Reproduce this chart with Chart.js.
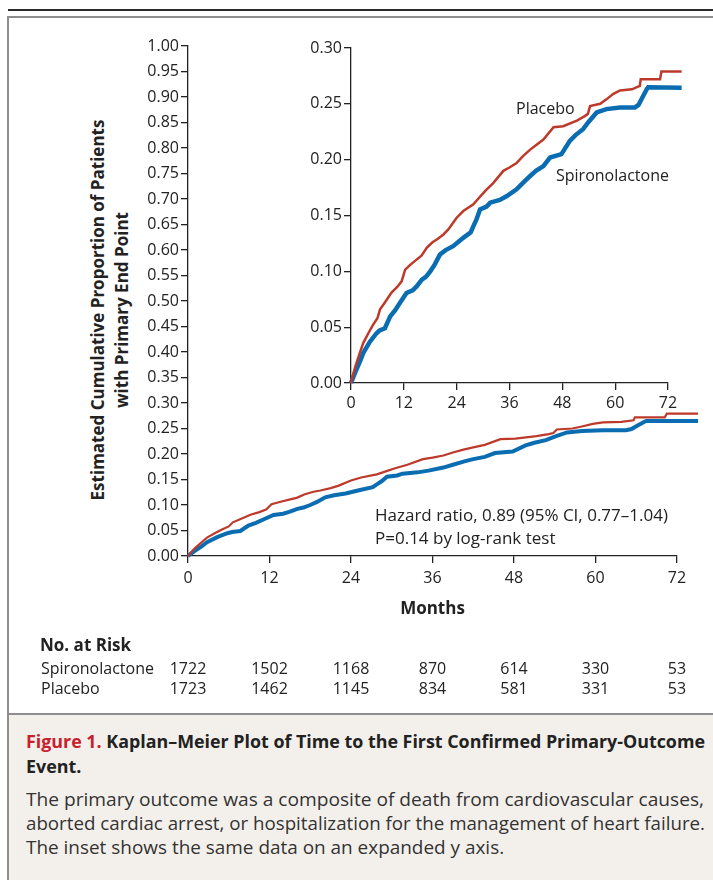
<!DOCTYPE html>
<html><head><meta charset="utf-8">
<script src="https://cdn.jsdelivr.net/npm/chart.js@4"></script>
<style>
html,body{margin:0;padding:0;background:#fff;}
body{width:713px;height:880px;position:relative;overflow:hidden;font-family:'Open Sans',sans-serif;color:#222;}
#topline{position:absolute;left:8px;top:9px;width:705px;height:2px;background:#2a2a2a;}
#frame{position:absolute;left:7px;top:16px;width:720px;height:880px;border-left:2px solid #8e8e8e;border-top:2px solid #8e8e8e;}
#caption{position:absolute;left:9px;top:713px;width:704px;height:167px;background:#f3f0eb;border-top:2px solid #8e8e8e;}
canvas{position:absolute;}
.lbl{position:absolute;white-space:nowrap;line-height:1;}
.cap{position:absolute;left:26px;white-space:nowrap;line-height:1;transform-origin:0 50%;}
#ytitle{position:absolute;left:-120px;top:286px;width:460px;height:48px;line-height:24px;text-align:center;font-weight:700;font-size:17px;transform:rotate(-90deg);transform-origin:50% 50%;color:#222;}
</style></head>
<body>
<div id="topline"></div>
<div id="frame"></div>
<div id="caption"></div>
<div id="ytitle">Estimated Cumulative Proportion of Patients<br>with Primary End Point</div>
<canvas id="main" width="713" height="710" style="left:0;top:0;width:713px;height:710px"></canvas>
<canvas id="inset" width="430" height="420" style="left:280px;top:0;width:430px;height:420px"></canvas>
<div class="lbl" style="left:516px;top:99.5px;font-size:16px">Placebo</div>
<div class="lbl" style="left:556px;top:166.5px;font-size:16px">Spironolactone</div>
<div class="lbl" style="left:375px;top:505.5px;font-size:17px">Hazard ratio, 0.89 (95% CI, 0.77–1.04)</div>
<div class="lbl" style="left:375px;top:529px;font-size:17px">P=0.14 by log-rank test</div>
<div class="cap" id="t1" style="top:731.5px;font-size:18px;font-weight:700;color:#222"><span style="color:#c8202e">Figure 1.</span> Kaplan–Meier Plot of Time to the First Confirmed Primary-Outcome</div>
<div class="cap" id="t2" style="top:756.5px;font-size:18px;font-weight:700;color:#222">Event.</div>
<div class="cap" id="b1" style="top:790px;font-size:18.5px;color:#333">The primary outcome was a composite of death from cardiovascular causes,</div>
<div class="cap" id="b2" style="top:814px;font-size:18.5px;color:#333">aborted cardiac arrest, or hospitalization for the management of heart failure.</div>
<div class="cap" id="b3" style="top:838px;font-size:18.5px;color:#333">The inset shows the same data on an expanded y axis.</div>
<script>
// ---- data ----
const placeboMonths = [0, 0.5, 1, 2, 2.8, 4, 5, 6, 6.6, 7.5, 9.2, 10.5, 11.5, 12.3, 13.5, 14.9, 16, 17.2, 18.5, 19.5, 21, 22.1, 24, 25.5, 27.8, 28.9, 30.5, 32.3, 34.6, 36, 37.6, 39, 40.7, 42, 43.7, 46, 48.2, 51.3, 53.1, 53.8, 54.3, 56.6, 58, 59.6, 61.1, 63.8, 65.6, 65.8, 70.2, 70.5, 75.1];
const placeboValues = [0, 0.008, 0.015, 0.027, 0.036, 0.045, 0.052, 0.058, 0.066, 0.071, 0.081, 0.086, 0.091, 0.1015, 0.106, 0.1105, 0.114, 0.121, 0.126, 0.1285, 0.133, 0.1375, 0.148, 0.154, 0.160, 0.165, 0.172, 0.179, 0.19, 0.193, 0.197, 0.203, 0.209, 0.213, 0.218, 0.229, 0.230, 0.235, 0.239, 0.241, 0.248, 0.250, 0.254, 0.259, 0.262, 0.263, 0.266, 0.272, 0.272, 0.279, 0.279];
const spiroMonths = [0, 0.5, 1, 2, 2.8, 4.3, 5.8, 6.5, 7.7, 8.9, 10, 11.1, 12.6, 14, 14.9, 16.1, 17, 18, 19, 20.2, 21.5, 23.2, 25.5, 27.2, 27.8, 28.5, 29.3, 30.8, 31.6, 33.8, 35.4, 37.6, 39, 40.7, 42, 43.7, 45.2, 47.8, 49.7, 51, 52.7, 54, 55.8, 58, 61.1, 64.5, 65.3, 66, 67.2, 67.5, 75.1];
const spiroValues = [0, 0.005, 0.01, 0.019, 0.027, 0.037, 0.0446, 0.047, 0.049, 0.0596, 0.065, 0.0716, 0.0806, 0.083, 0.0865, 0.0925, 0.095, 0.100, 0.106, 0.115, 0.119, 0.1225, 0.130, 0.135, 0.1405, 0.1465, 0.1554, 0.158, 0.1615, 0.164, 0.1674, 0.1734, 0.179, 0.1854, 0.190, 0.1943, 0.2019, 0.2049, 0.2168, 0.222, 0.2273, 0.234, 0.2423, 0.2453, 0.2468, 0.2468, 0.249, 0.2543, 0.2633, 0.2648, 0.2645];
const riskMonths = [0, 12, 24, 36, 48, 60, 72];
const riskSpiro = [1722, 1502, 1168, 870, 614, 330, 53];
const riskPlacebo = [1723, 1462, 1145, 834, 581, 331, 53];
const seriesNames = ['Placebo', 'Spironolactone'];
const xTickStep = 12;
const mainYStep = 0.05, mainYMax = 1.0;
const insetYStep = 0.05, insetYMax = 0.30;

// ---- styling ----
const RED = '#bd3a2a', BLUE = '#0b6db1', INK = '#222';
Chart.defaults.font.family = "'Open Sans', sans-serif";
Chart.defaults.font.size = 16;
Chart.defaults.color = INK;

const pts = (ms, vs) => ms.map((m, i) => ({x: m, y: vs[i]}));

function makeScales(yMax, yStep, yW, xH, xPad) {
  return {
    x: {type: 'linear', min: 0, max: 72,
        ticks: {stepSize: xTickStep, padding: xPad, color: INK, maxRotation: 0},
        grid: {drawOnChartArea: false, drawTicks: true, tickLength: 7, color: INK, lineWidth: 1.3},
        border: {display: true, color: INK, width: 1.3},
        afterFit: s => { s.height = xH; }},
    y: {type: 'linear', min: 0, max: yMax,
        ticks: {stepSize: yStep, padding: 2, color: INK, callback: v => v.toFixed(2)},
        grid: {drawOnChartArea: false, drawTicks: true, tickLength: 7, color: INK, lineWidth: 1.3},
        border: {display: true, color: INK, width: 1.3},
        afterFit: s => { s.width = yW; }}
  };
}

function datasets(rw, bw) {
  return [
    {label: seriesNames[0], data: pts(placeboMonths, placeboValues), borderColor: RED, borderWidth: rw, pointRadius: 0, tension: 0, clip: false, fill: false},
    {label: seriesNames[1], data: pts(spiroMonths, spiroValues), borderColor: BLUE, borderWidth: bw, pointRadius: 0, tension: 0, clip: false, fill: false}
  ];
}

const riskPlugin = {
  id: 'riskTable',
  afterDraw(chart) {
    const ctx = chart.ctx, xs = chart.scales.x, area = chart.chartArea;
    ctx.save();
    ctx.fillStyle = INK;
    ctx.textBaseline = 'alphabetic';
    ctx.font = "700 17px 'Open Sans', sans-serif";
    ctx.textAlign = 'center';
    ctx.fillText('Months', (area.left + area.right) / 2, 614);
    ctx.textAlign = 'left';
    ctx.fillText('No. at Risk', 40, 651);
    ctx.font = "400 16px 'Open Sans', sans-serif";
    ctx.fillText(seriesNames[1], 41, 674);
    ctx.fillText(seriesNames[0], 41, 694);
    ctx.textAlign = 'center';
    riskMonths.forEach((m, i) => {
      const x = xs.getPixelForValue(m);
      ctx.fillText(String(riskSpiro[i]), x, 674);
      ctx.fillText(String(riskPlacebo[i]), x, 694);
    });
    ctx.restore();
  }
};

new Chart(document.getElementById('main'), {
  type: 'line',
  data: {datasets: datasets(2.2, 4)},
  options: {
    responsive: false, animation: false, devicePixelRatio: 1,
    layout: {padding: {left: 148, top: 46, right: 36, bottom: 124}},
    plugins: {legend: {display: false}, tooltip: {enabled: false}},
    scales: makeScales(mainYMax, mainYStep, 40, 30, 6)
  },
  plugins: [riskPlugin]
});

new Chart(document.getElementById('inset'), {
  type: 'line',
  data: {datasets: datasets(2.5, 4.5)},
  options: {
    responsive: false, animation: false, devicePixelRatio: 1,
    layout: {padding: {left: 31, top: 48, right: 42, bottom: 7}},
    plugins: {legend: {display: false}, tooltip: {enabled: false}},
    scales: makeScales(insetYMax, insetYStep, 40, 30, 4)
  }
});

// fit caption lines to the reference widths
function scaleOf(id, target) {
  return target / document.getElementById(id).getBoundingClientRect().width;
}
function setScale(id, k) { document.getElementById(id).style.transform = 'scaleX(' + k + ')'; }
const kt = scaleOf('t1', 679); setScale('t1', kt); setScale('t2', kt);
const k1 = scaleOf('b1', 678), k2 = scaleOf('b2', 679);
setScale('b1', k1); setScale('b2', k2); setScale('b3', (k1 + k2) / 2);
</script>
</body></html>
